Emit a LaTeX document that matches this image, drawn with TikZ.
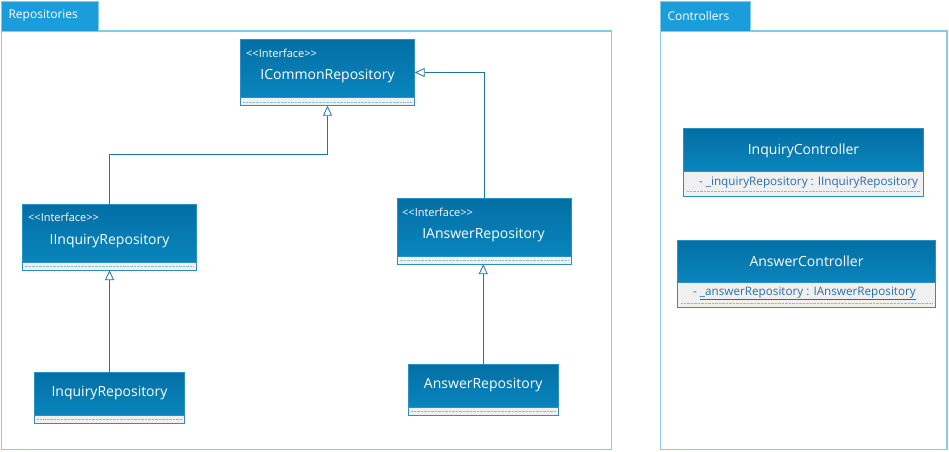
\documentclass[tikz,border=0pt]{standalone}
\usepackage{fontspec}
\setmainfont{Open Sans}
\usetikzlibrary{arrows.meta,positioning}
\definecolor{hdr}{HTML}{0479AE}
\definecolor{hdrtop}{HTML}{036FA4}
\definecolor{hdrbot}{HTML}{0985BD}
\definecolor{hdrborder}{HTML}{2B8FC4}
\definecolor{comp}{HTML}{F0F0F0}
\definecolor{tabc}{HTML}{1A9DDA}
\definecolor{framec}{HTML}{86CBE6}
\definecolor{linec}{HTML}{1E74A8}
\definecolor{attrc}{HTML}{2A6EA8}
\definecolor{dotc}{HTML}{8FB8D6}
\tikzset{
  frameline/.style={draw=framec, line width=1.3pt},
  tabbox/.style={fill=tabc, draw=framec, line width=0.8pt},
  tabtext/.style={text=white, font=\fontsize{12}{14}\selectfont, anchor=west},
  headbox/.style={top color=hdrtop, bottom color=hdrbot, draw=hdrborder, line width=0.8pt},
  compbox/.style={fill=comp, draw=hdrborder, line width=0.8pt},
  dotline/.style={draw=dotc, line width=0.6pt, dash pattern=on 0.7pt off 0.7pt},
  stereo/.style={text=white, font=\fontsize{11}{13}\selectfont, anchor=west, inner sep=0pt},
  cname/.style={text=white, font=\fontsize{14}{16}\selectfont, inner sep=0pt},
  attr/.style={text=attrc, font=\fontsize{11.7}{13}\selectfont, inner sep=0pt},
  gen/.style={draw=linec, line width=0.8pt, -{Triangle[open, length=10pt, width=9pt, fill=white]}},
  plain/.style={draw=linec, line width=0.8pt}
}
\newcommand{\stereotxt}{{<}{<}Interface{>}{>}}
\begin{document}
\begin{tikzpicture}[x=1pt,y=-1pt]
\useasboundingbox (0,0) rectangle (949,451);
% packages
\draw[frameline] (1.5,31) rectangle (611.5,449.5);
\draw[tabbox] (1.5,1) rectangle (98,31);
\node[tabtext] (reptab) at (5,16) {Repositories};
\draw[frameline] (660.5,31) rectangle (947,449.5);
\draw[tabbox] (660.5,1) rectangle (750,31);
\node[tabtext] (ctrltab) at (664,16) {Controllers};

% ICommonRepository
\draw[compbox] (240.5,97.5) rectangle (414.5,105.5);
\draw[dotline] (243,102) -- (412,102);
\draw[headbox] (240.5,39.5) rectangle (414.5,97.5);
\node (icommon) at (327.5,72.5) [minimum width=174pt, minimum height=66pt, inner sep=0pt] {};
\node[stereo] (icst) at (246,53) {\stereotxt};
\node[cname] (icname) at (327.5,76) {ICommonRepository};

% IInquiryRepository
\draw[compbox] (22,262) rectangle (196,270);
\draw[dotline] (24.5,266.5) -- (193.5,266.5);
\draw[headbox] (22,204) rectangle (196,262);
\node (iinq) at (109.5,237) [minimum width=174pt, minimum height=66pt, inner sep=0pt] {};
\node[stereo] (iiqst) at (28,217) {\stereotxt};
\node[cname] (iiqname) at (109.5,241) {IInquiryRepository};

% IAnswerRepository
\draw[compbox] (397,256) rectangle (571,264);
\draw[dotline] (399.5,260.5) -- (568.5,260.5);
\draw[headbox] (397,198) rectangle (571,256);
\node (ians) at (484,231) [minimum width=174pt, minimum height=66pt, inner sep=0pt] {};
\node[stereo] (iast) at (402,212) {\stereotxt};
\node[cname] (ianame) at (483.5,235.5) {IAnswerRepository};

% InquiryRepository
\draw[compbox] (34.5,415) rectangle (184.5,423);
\draw[dotline] (37,419.5) -- (182,419.5);
\draw[headbox] (34.5,372) rectangle (184.5,415);
\node (inq) at (109.5,397.5) [minimum width=150pt, minimum height=51pt, inner sep=0pt] {};
\node[cname] (inqname) at (109.5,393.5) {InquiryRepository};

% AnswerRepository
\draw[compbox] (408.5,407.5) rectangle (558,415.5);
\draw[dotline] (411,411.5) -- (555.5,411.5);
\draw[headbox] (408.5,364) rectangle (558,407.5);
\node (ans) at (483.25,389.75) [minimum width=149.5pt, minimum height=51.5pt, inner sep=0pt] {};
\node[cname] (ansname) at (483.25,385.5) {AnswerRepository};

% InquiryController
\draw[compbox] (683.5,171.5) rectangle (923.5,196.5);
\draw[dotline] (687,191.5) -- (920,191.5);
\draw[headbox] (683.5,128.5) rectangle (923.5,171.5);
\node (ictrl) at (803.5,162.5) [minimum width=240pt, minimum height=68pt, inner sep=0pt] {};
\node[cname] (ictrlname) at (803.5,150.5) {InquiryController};
\node[attr] (ictrlattr) at (808.5,182.5) {- \_inquiryRepository : IInquiryRepository};

% AnswerController
\draw[compbox] (677.5,282.5) rectangle (935.5,307.5);
\draw[dotline] (681,303) -- (932,303);
\draw[headbox] (677.5,240) rectangle (935.5,282.5);
\node (actrl) at (806.5,273.75) [minimum width=258pt, minimum height=67.5pt, inner sep=0pt] {};
\node[cname] (actrlname) at (806.5,261.5) {AnswerController};
\node[attr] (actrlattr) at (804.5,293.5) {- \underline{\_answerRepository : IAnswerRepository}};

% connectors
\draw[gen] (iinq.north) -- ++(0,-49) -| (icommon.south);
\draw[gen] (ians.north) |- (icommon.east);
\draw[gen] (inq.north) -- (inq.north |- iinq.south);
\draw[gen] (ans.north) -- (ans.north |- ians.south);
\end{tikzpicture}
\end{document}
